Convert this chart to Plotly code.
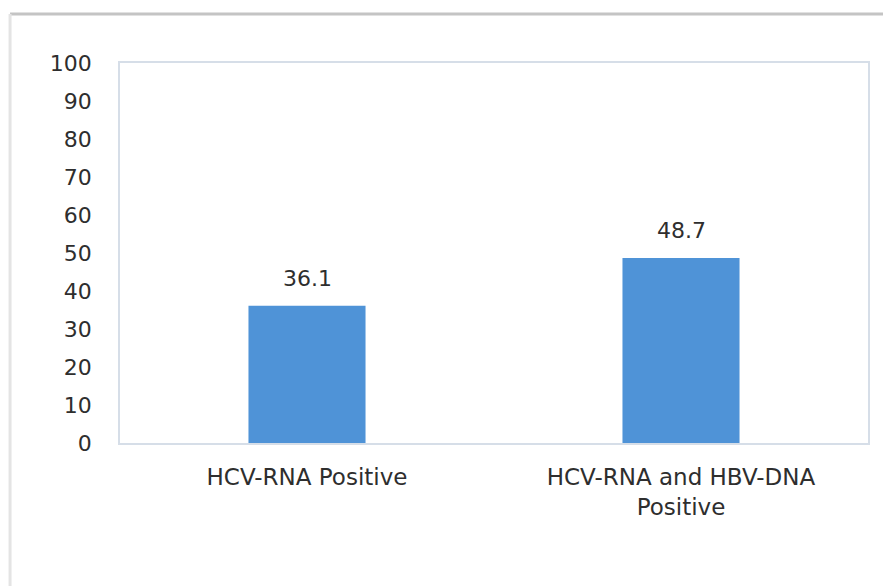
import plotly.graph_objects as go

categories = ["HCV-RNA Positive", "HCV-RNA and HBV-DNA<br>Positive"]
values = [36.1, 48.7]
y_ticks = [0, 10, 20, 30, 40, 50, 60, 70, 80, 90, 100]

TXT = "#2e2e2e"
FONT = "DejaVu Sans"

fig = go.Figure()
fig.add_trace(go.Bar(
    x=categories, y=values,
    marker=dict(color="#4f93d7", line=dict(width=0)),
    width=0.313,
))

for c, v in zip(categories, values):
    fig.add_annotation(x=c, y=v, text=f"{v:.1f}", showarrow=False,
                       yshift=27, font=dict(size=22, color=TXT, family=FONT))

fig.update_layout(
    width=891, height=586,
    margin=dict(l=112, r=31, t=55, b=151),
    paper_bgcolor="white", plot_bgcolor="white",
    showlegend=False,
    font=dict(family=FONT, size=22, color=TXT),
    xaxis=dict(showline=True, linecolor="#d6dee8", linewidth=1.5, mirror=True,
               ticks="", tickfont=dict(size=23, color=TXT, family=FONT),
               ticklabelstandoff=13),
    yaxis=dict(range=[0, 100], tickvals=y_ticks, showgrid=False,
               showline=True, linecolor="#d6dee8", linewidth=1.5, mirror=True,
               ticks="", zeroline=False, tickfont=dict(size=22, color=TXT, family=FONT),
               ticklabelstandoff=22),
)

# outer frame edges (faint gray, top and left)
fig.add_shape(type="line", xref="paper", yref="paper", x0=-0.147, x1=1.05, y0=1.129, y1=1.129,
              line=dict(color="#c4c4c4", width=3))
fig.add_shape(type="line", xref="paper", yref="paper", x0=-0.147, x1=-0.147, y0=1.129, y1=-0.40,
              line=dict(color="#e4e4e4", width=3))

fig.write_html("out.html")
